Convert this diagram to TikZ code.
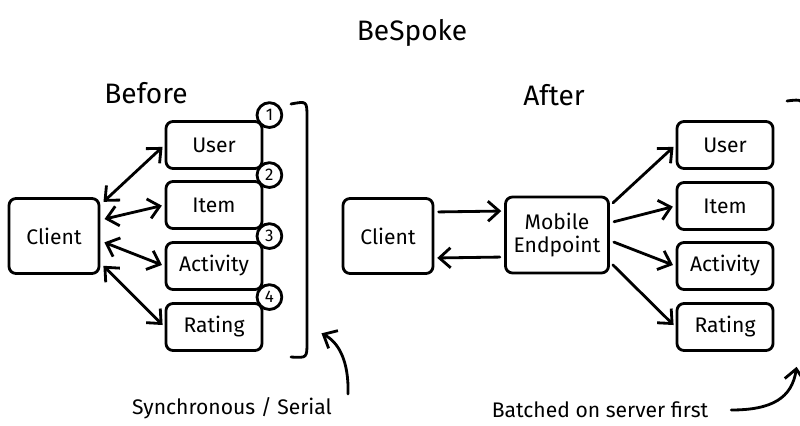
\documentclass[tikz,border=0pt]{standalone}
\usepackage{fontspec}
\setmainfont{Fira Sans}
\usetikzlibrary{arrows.meta,positioning}
\tikzset{
  pen/.style={line width=2pt, line cap=round, line join=round},
  oneway/.style={pen, -{Straight Barb[length=2.8mm,width=5mm]}, shorten >=2pt},
  twoway/.style={pen, {Straight Barb[length=2.8mm,width=5mm]}-{Straight Barb[length=2.8mm,width=5mm]}, shorten <=3pt, shorten >=2pt},
  svc/.style={draw, pen, rounded corners=5pt, minimum width=2.4cm, minimum height=1.175cm, inner sep=1pt, font=\fontsize{15}{17}\selectfont},
  cli/.style={svc, minimum width=2.25cm, minimum height=1.875cm},
  num/.style={draw, circle, pen, fill=white, minimum size=0.62cm, inner sep=0pt, font=\fontsize{12}{12}\selectfont},
  ttl/.style={font=\fontsize{20}{24}\selectfont},
  note/.style={font=\fontsize{15}{18}\selectfont}
}
\begin{document}
\begin{tikzpicture}[x=0.025cm, y=-0.025cm]
\path[use as bounding box, clip] (0,0) rectangle (800,426);

% titles
\node[ttl] (title) at (412,33) {BeSpoke};
\node[ttl] (before) at (146,93) {Before};
\node[ttl] (after) at (554,95) {After};

% before
\node[cli] (cl1) at (54,236) {Client};
\node[svc] (u1) at (214,145) {User};
\node[svc] (i1) at (214,205) {Item};
\node[svc] (a1) at (214,266) {Activity};
\node[svc] (r1) at (214,327) {Rating};
\foreach \n/\b in {1/u1,2/i1,3/a1,4/r1}
  \node[num] (n\n) at ([shift={(6,-5)}]\b.north east) {\n};
\draw[twoway] (cl1.34) -- (u1.west);
\draw[twoway] (cl1.19) -- (i1.west);
\draw[twoway] (cl1.-6) -- (a1.west);
\draw[twoway] (cl1.-30) -- (r1.west);
\draw[pen] (291,104) .. controls (307,101) .. (307,118) -- (307,342) .. controls (307,358) .. (291,357);
\node[note] (sync) at (232,408) {Synchronous / Serial};
\coordinate (synctail) at (348,394);
\draw[oneway] (synctail) .. controls (349,360) and (338,342) .. (319,332);

% after
\node[cli] (cl2) at (388,236) {Client};
\node[svc, minimum width=2.575cm, minimum height=1.9cm, align=center] (me) at (557,235) {Mobile\\Endpoint};
\node[svc] (u2) at (725,145) {User};
\node[svc] (i2) at (725,206) {Item};
\node[svc] (a2) at (725,266) {Activity};
\node[svc] (r2) at (725,327) {Rating};
\draw[oneway, shorten <=3pt] ([yshift=0.6cm]cl2.east) -- ([yshift=0.6cm]me.west);
\draw[oneway, shorten <=3pt] ([yshift=-0.55cm]me.west) -- ([yshift=-0.55cm]cl2.east);
\draw[oneway, shorten <=3pt] (me.29) -- (u2.west);
\draw[oneway, shorten <=3pt] (me.13) -- (i2.west);
\draw[oneway, shorten <=3pt] (me.-6) -- (a2.west);
\draw[oneway, shorten <=3pt] (me.-27) -- (r2.west);
\draw[pen] (787,101) .. controls (803,99) .. (803,116) -- (803,345);
\node[note] (batch) at (600,410) {Batched on server first};
\draw[oneway] ([xshift=0.45cm]batch.east) .. controls (772,410) and (792,398) .. (797,364);
\end{tikzpicture}
\end{document}
